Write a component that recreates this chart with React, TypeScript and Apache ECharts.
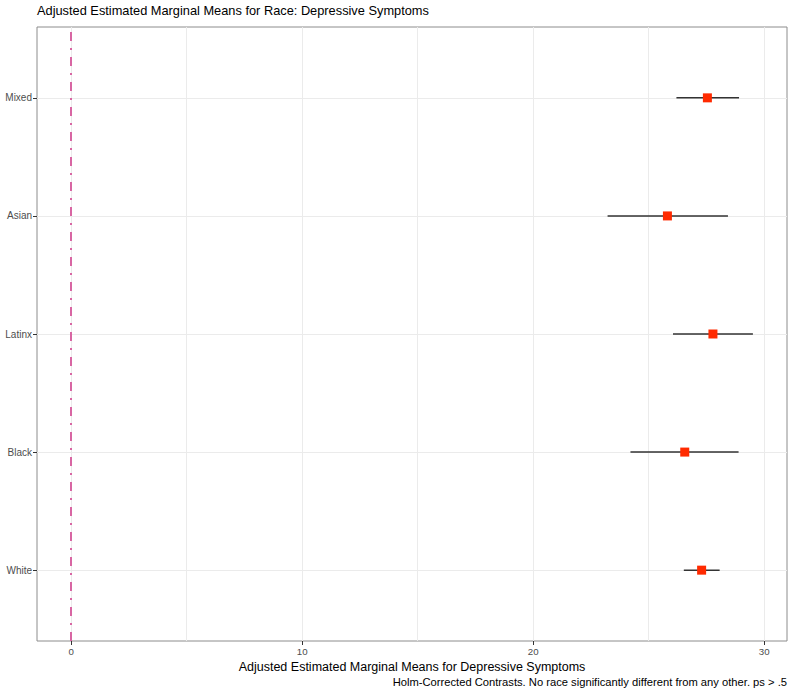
import React, { useEffect, useRef } from 'react';
import * as echarts from 'echarts';

const races = ['White', 'Black', 'Latinx', 'Asian', 'Mixed'];
const means = [27.29, 26.56, 27.78, 25.81, 27.54];
const lower = [26.52, 24.21, 26.05, 23.22, 26.2];
const upper = [28.07, 28.89, 29.51, 28.43, 28.91];
const xTicks = [0, 10, 20, 30];
const xMinorGrid = [5, 15, 25];
const referenceLine = 0;

const titleText = 'Adjusted Estimated Marginal Means for Race: Depressive Symptoms';
const xAxisName = 'Adjusted Estimated Marginal Means for Depressive Symptoms';
const captionText = 'Holm-Corrected Contrasts. No race significantly different from any other. ps > .5';

export default function App() {
  const ref = useRef<HTMLDivElement>(null);
  useEffect(() => {
    document.body.style.margin = '0';
    const chart = echarts.init(ref.current!, null, { renderer: 'svg' });
    const font = '"Liberation Sans", Arial, Helvetica, sans-serif';
    const yPos = races.map((_, i) => i + 1);
    const lo = Math.min(referenceLine, ...lower);
    const hi = Math.max(referenceLine, ...upper);
    const pad = (hi - lo) * 0.05;
    const gridColor = '#ebebeb';
    chart.setOption({
      animation: false,
      textStyle: { fontFamily: font },
      title: {
        text: titleText,
        left: 37,
        top: 4,
        padding: 0,
        textStyle: { fontSize: 12.8, fontWeight: 'normal', color: '#000', fontFamily: font },
      },
      graphic: [
        {
          type: 'text',
          right: 4,
          top: 676,
          style: { text: captionText, fontSize: 11.2, fill: '#000', font: `11.2px ${font}` },
        },
      ],
      grid: {
        left: 37,
        right: 4,
        top: 27,
        bottom: 52,
        show: true,
        borderColor: '#8c8c8c',
        borderWidth: 1,
        backgroundColor: 'transparent',
      },
      xAxis: {
        type: 'value',
        min: lo - pad,
        max: hi + pad,
        axisLine: { show: false, onZero: false },
        axisTick: { show: true, customValues: xTicks, length: 4, lineStyle: { color: '#333' } },
        axisLabel: { customValues: xTicks, color: '#4d4d4d', fontSize: 9.7, margin: 5, fontFamily: font },
        splitLine: { show: false },
        name: xAxisName,
        nameLocation: 'middle',
        nameGap: 15,
        nameTextStyle: { fontSize: 12.5, color: '#000', fontFamily: font },
      },
      yAxis: {
        type: 'value',
        min: 0.4,
        max: races.length + 0.6,
        axisLine: { show: false, onZero: false },
        axisTick: { show: true, customValues: yPos, length: 4, lineStyle: { color: '#333' } },
        axisLabel: {
          customValues: yPos,
          color: '#4d4d4d',
          fontSize: 10,
          margin: 5,
          fontFamily: font,
          formatter: (v: number) => races[Math.round(v) - 1] ?? '',
        },
        splitLine: { show: false },
      },
      series: [
        {
          type: 'scatter',
          data: [],
          silent: true,
          markLine: {
            silent: true,
            symbol: 'none',
            z: 0,
            label: { show: false },
            lineStyle: { color: gridColor, width: 1, type: 'solid' },
            data: [
              ...xTicks.map((v) => ({ xAxis: v })),
              ...xMinorGrid.map((v) => ({ xAxis: v })),
              ...yPos.map((v) => ({ yAxis: v })),
            ],
          },
        },
        {
          type: 'scatter',
          data: [],
          silent: true,
          markLine: {
            silent: true,
            symbol: 'none',
            z: 1,
            label: { show: false },
            lineStyle: { color: '#d866a3', width: 2, type: [9, 7, 2, 7] },
            data: [{ xAxis: referenceLine }],
          },
        },
        {
          type: 'custom',
          z: 3,
          data: races.map((_, i) => [lower[i], upper[i], i + 1]),
          encode: { x: [0, 1], y: 2 },
          renderItem: (params: any, api: any) => {
            const p1 = api.coord([api.value(0), api.value(2)]);
            const p2 = api.coord([api.value(1), api.value(2)]);
            return {
              type: 'line',
              shape: { x1: p1[0], y1: p1[1], x2: p2[0], y2: p2[1] },
              style: { stroke: '#333', lineWidth: 1.5 },
            };
          },
        },
        {
          type: 'scatter',
          z: 5,
          symbol: 'rect',
          symbolSize: 9,
          itemStyle: { color: '#ff2a00', opacity: 1 },
          data: races.map((_, i) => [means[i], i + 1]),
        },
      ],
    });
    return () => chart.dispose();
  }, []);
  return <div ref={ref} style={{ width: 791, height: 693 }} />;
}
